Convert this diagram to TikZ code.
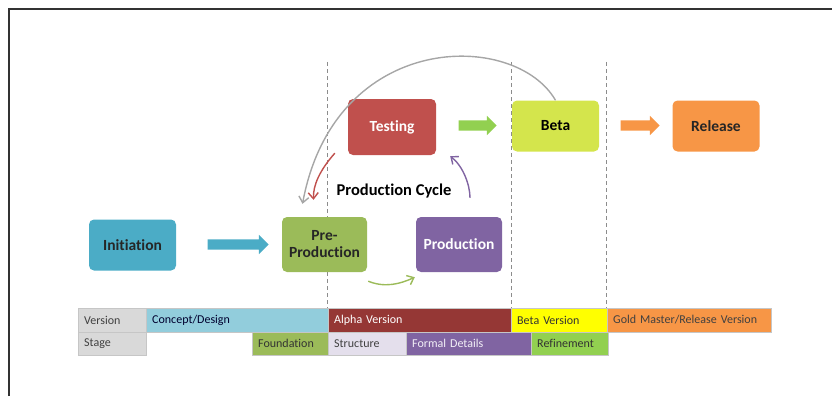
\documentclass[tikz,border=0pt]{standalone}
\usepackage{fontspec}
\setmainfont{Carlito}[RawFeature=-liga]
\usepackage{tikz}
\usetikzlibrary{arrows.meta,shapes.arrows}

\definecolor{initblue}{HTML}{4BACC6}
\definecolor{pregreen}{HTML}{9BBB59}
\definecolor{prodpurple}{HTML}{8064A2}
\definecolor{testred}{HTML}{C0504D}
\definecolor{betalime}{HTML}{D4E54C}
\definecolor{relorange}{HTML}{F79646}
\definecolor{arrgreen}{HTML}{92D050}
\definecolor{conceptblue}{HTML}{92CDDC}
\definecolor{alphared}{HTML}{953735}
\definecolor{betayellow}{HTML}{FFFF00}
\definecolor{headgray}{HTML}{D9D9D9}
\definecolor{structlilac}{HTML}{E4DFEC}
\definecolor{guidegray}{HTML}{8C8C8C}

\begin{document}
\begin{tikzpicture}[x=1pt, y=-1pt,
  phase/.style={rounded corners=5pt, minimum width=87pt, minimum height=51pt,
    inner sep=2pt, align=center, font=\fontsize{15.5}{17}\selectfont\bfseries},
  blockarrow/.style={single arrow, inner xsep=0pt, inner ysep=5pt,
    minimum width=19pt, single arrow head extend=4.5pt, single arrow tip angle=90},
  cell/.style={draw=gray!45, anchor=north west, minimum height=23.5pt,
    inner xsep=6pt, inner ysep=0pt, align=left,
    font=\fontsize{12}{13}\selectfont},
  loop/.style={line width=1.4pt, -{Straight Barb[length=6pt,width=10pt]}}]

\useasboundingbox (0,0) rectangle (832,396);

% frame
\draw[line width=1.1pt, black!80] (9,396) -- (9,9) -- (832,9);

% phase guides
\foreach \x in {327,511,606}
  \draw[guidegray, dashed, dash pattern=on 4pt off 3pt] (\x,62) -- (\x,308);

% phases
\node[phase, fill=initblue, text=black!85] (init) at (132.5,245) {Initiation};
\node[phase, fill=pregreen, text=black!85, minimum width=85pt, minimum height=55pt] (pre) at (324.5,244.5) {Pre-\\Production};
\node[phase, fill=prodpurple, text=white, minimum width=86pt, minimum height=55pt] (prod) at (459,244.5) {Production};
\node[phase, fill=testred, text=white, minimum width=88pt, minimum height=56pt] (test) at (392,127) {Testing};
\node[phase, fill=betalime, text=black] (beta) at (555.5,126) {Beta};
\node[phase, fill=relorange, text=black!85] (rel) at (716,126) {Release};

\node[font=\fontsize{16.5}{18}\selectfont\bfseries] (cycle) at (394,191) {Production Cycle};

% block arrows
\node[blockarrow, fill=initblue, minimum height=61pt] (a1) at (235.5,244.5) {};
\node[blockarrow, fill=arrgreen, minimum height=38pt] (a2) at (475,125.5) {};
\node[blockarrow, fill=relorange, minimum height=39pt] (a3) at (637.5,125.5) {};

% production cycle
\draw[loop, gray!70] (beta.north) .. controls (515,30) and (335,30) .. ([xshift=-22pt,yshift=13pt]pre.north);
\draw[loop, testred] ([xshift=-13pt,yshift=2pt]test.south west) .. controls (320,170) and (313,185) .. ([xshift=-11pt,yshift=17pt]pre.north);
\draw[loop, prodpurple] ([xshift=11pt,yshift=19pt]prod.north) .. controls (470,185) and (463,166) .. ([xshift=14pt,yshift=-1pt]test.south east);
\draw[loop, pregreen] ([xshift=1pt,yshift=-9pt]pre.south east) .. controls (385,288) and (400,284) .. ([xshift=-1pt,yshift=-5pt]prod.south west);

% version row
\node[cell, fill=headgray, text=black!75, text width=56pt] (version) at (78,308) {Version};
\node[cell, fill=conceptblue, text=black!70!blue!60!black, text width=170pt] (concept) at (146,308) {Concept/Design};
\node[cell, fill=alphared, text=white, text width=171pt] (alpha) at (328,308) {Alpha Version};
\node[cell, fill=betayellow, text=black!80, text width=84pt] (betaver) at (511,308) {Beta Version};
\node[cell, fill=relorange, text=black!75, text width=152pt] (gold) at (607,308) {Gold Master/Release Version};

% stage row
\node[cell, fill=headgray, text=black!75, text width=56pt] (stage) at (78,331.5) {Stage};
\node[cell, draw=none, text width=94pt] (blank) at (146,331.5) {};
\node[cell, fill=pregreen, text=black!80, text width=64pt] (found) at (252,331.5) {Foundation};
\node[cell, fill=structlilac, text=black!75, text width=66pt] (struct) at (328,331.5) {Structure};
\node[cell, fill=prodpurple, text=white!90!prodpurple, text width=113pt] (formal) at (406,331.5) {Formal Details};
\node[cell, fill=arrgreen, text=black!80, text width=65pt] (refine) at (531,331.5) {Refinement};

\end{tikzpicture}
\end{document}
